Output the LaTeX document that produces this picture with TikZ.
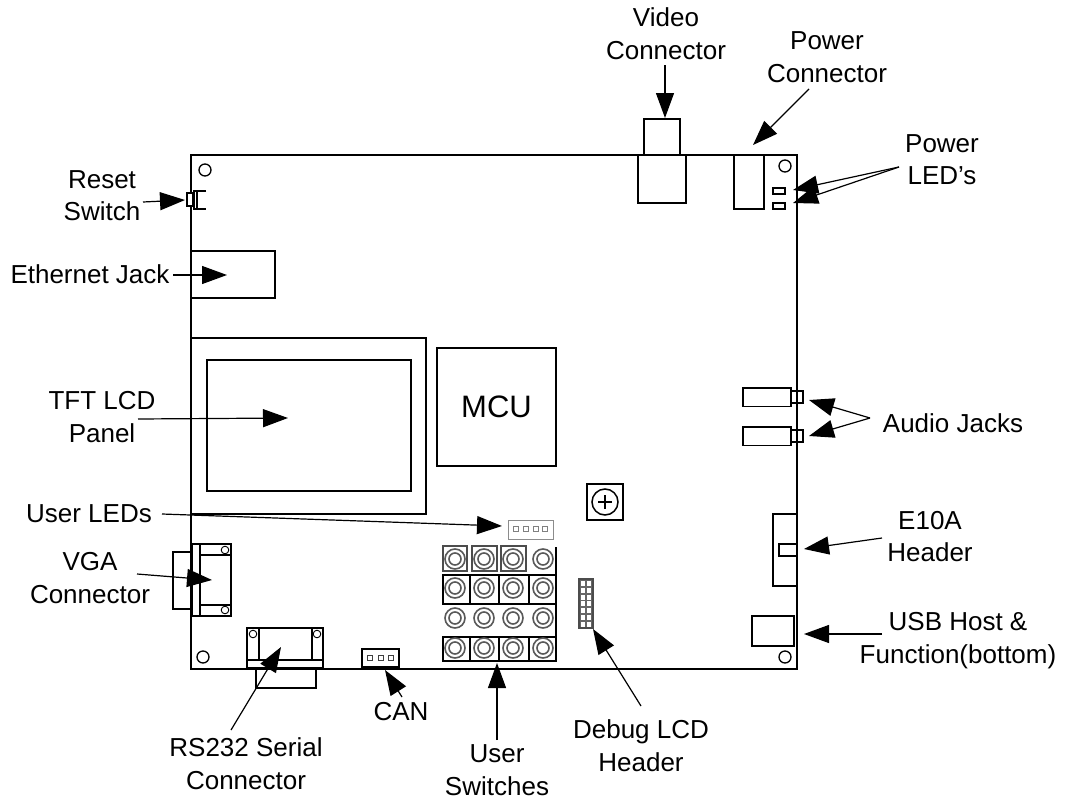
\documentclass[tikz,border=0pt]{standalone}
\usepackage{fontspec}
\setmainfont{Liberation Sans}
\usetikzlibrary{arrows.meta}
\tikzset{
  x=1pt,y=-1pt,
  part/.style={draw=black,line width=1.5pt,fill=none},
  thin part/.style={draw=black,line width=1.2pt,fill=none},
  hole/.style={draw=black,line width=1.3pt,fill=white},
  pin/.style={draw=black!75,line width=0.9pt,fill=white},
  ring/.style={draw=black!65,line width=1.6pt},
  graybox/.style={draw=black!70,line width=1.5pt},
  callout/.style={draw=black,line width=1.2pt,-{Triangle[length=25pt,width=18pt]}},
  lbl/.style={font=\fontsize{26}{32.5}\selectfont,align=center,inner sep=0pt,
    execute at begin node={\rule{0pt}{19pt}\ignorespaces},
    execute at end node={\rule[-6pt]{0pt}{6pt}}},
}
\begin{document}
\begin{tikzpicture}[line join=miter]
\useasboundingbox (0,0) rectangle (1065,803);
% board
\draw[part] (191,155) rectangle (797,669);
\foreach \x/\y in {205/170,785/166,203/657,785/657} \draw[hole] (\x,\y) circle (6);
% reset switch
\draw[thin part,fill=white] (187,193) rectangle (193,206);
\draw[thin part] (206,191) -- (194,191) -- (194,209) -- (206,209);
\draw[thin part] (197,191) -- (197,209);
% ethernet
\draw[part] (191,251) rectangle (275,298);
% LCD
\draw[part] (191,338) rectangle (426,514);
\draw[part] (207,360) rectangle (411,491);
% MCU
\node[part,minimum width=119pt,minimum height=118pt,inner sep=0pt,line width=1.2pt,font=\fontsize{31}{35}\selectfont] (mcu) at (496.5,407) {MCU};
% pot
\draw[part] (587,484) rectangle (623,520);
\draw[part] (605,502) circle (13);
\draw[line width=1.2pt] (598,502) -- (612,502) (605,495) -- (605,509);
% user LEDs
\draw[draw=black!45,line width=1pt] (508,520) rectangle (553,539);
\foreach \x in {516,526,536,545} \draw[pin,draw=black!50] (\x-2.5,526.5) rectangle (\x+2.5,531.5);
% switches
\foreach \a/\b in {443/467,472/497,501/526} \draw[graybox] (\a,546) rectangle (\b,571);
\draw[part] (556,547) -- (556,661);
\foreach \t/\b in {575/604,637/661} {
  \draw[part] (443,\t) rectangle (556,\b);
  \foreach \x in {470,499,529} \draw[part] (\x,\t) -- (\x,\b);
}
\foreach \x in {455,484,513,543} \foreach \y in {559,588,618,648} {
  \draw[ring] (\x,\y) circle (10);
  \draw[ring] (\x,\y) circle (6);
}
% debug header
\draw[graybox,fill=black!60] (579,579) rectangle (593,628);
\foreach \r in {0,...,6} \foreach \c in {0,1}
  \fill[white] (581+\c*5.6,581+\r*6.8) rectangle +(4.2,5);
% VGA
\draw[part] (173,552) rectangle (192,609);
\draw[part] (192,544) rectangle (231,616);
\draw[part] (200,544) -- (200,616);
\draw[thin part] (200,555) -- (231,555) (200,605) -- (231,605);
\foreach \y in {550,610} \draw[hole,line width=0.9pt] (225,\y) circle (3.8);
% RS232
\draw[part] (247,628) rectangle (323,668);
\draw[part] (247,660) -- (323,660);
\draw[part] (259,628) -- (259,660) (312,628) -- (312,660);
\draw[part] (256,669) -- (256,688) -- (316,688) -- (316,669);
\foreach \x in {253,317} \draw[hole,line width=0.9pt] (\x,634) circle (3.8);
% CAN
\draw[part,fill=white] (362,649) rectangle (399,667);
\foreach \x in {370,381,391} \draw[pin] (\x-2.5,655) rectangle (\x+2.5,660);
% video
\draw[part] (644,119) rectangle (680,155);
\draw[part] (638,155) rectangle (686,203);
% power
\draw[part] (734,155) rectangle (764,209);
\draw[thin part] (773,188) rectangle (785,194);
\draw[thin part] (773,203) rectangle (785,209);
% audio
\foreach \t in {388,427} {
  \draw[part] (743,\t) rectangle (791,\t+18.5);
  \draw[part] (791,\t+3) rectangle (803,\t+15);
}
% E10A, USB
\draw[part] (797,514) -- (773,514) -- (773,586) -- (797,586);
\draw[part] (797,544) -- (779,544) -- (779,556) -- (797,556);
\draw[part] (752,616) rectangle (794,646);
% labels
\node[lbl] (lvideo) at (666,36.5) {Video\\Connector};
\node[lbl] (lpower) at (827,60) {Power\\Connector};
\node[lbl] (lleds) at (942,162.5) {Power\\LED's};
\node[lbl] (lreset) at (102,198.5) {Reset\\Switch};
\node[lbl] (leth) at (90,276.5) {Ethernet Jack};
\node[lbl] (ltft) at (102,420) {TFT LCD\\Panel};
\node[lbl] (lusr) at (89,515.5) {User LEDs};
\node[lbl] (lvga) at (90,581) {VGA\\Connector};
\node[lbl] (laudio) at (953,425.5) {Audio Jacks};
\node[lbl] (le10a) at (930,539.5) {E10A\\Header};
\node[lbl] (lusb) at (958,641) {USB Host \&\\Function(bottom)};
\node[lbl] (lrs) at (246,766.5) {RS232 Serial\\Connector};
\node[lbl] (lcan) at (401,713.5) {CAN};
\node[lbl] (lsw) at (497,773) {User\\Switches};
\node[lbl] (ldbg) at (641,748.5) {Debug LCD\\Header};
% connector ends
\coordinate (a1) at (665,65);   \coordinate (a2) at (665,118);
\coordinate (b1) at (809,89);   \coordinate (b2) at (753,145);
\coordinate (c0) at (899,167);  \coordinate (c1) at (793,190); \coordinate (c2) at (793,203);
\coordinate (d1) at (143,202);  \coordinate (d2) at (185,200);
\coordinate (e1) at (173,275);  \coordinate (e2) at (227,275);
\coordinate (f1) at (138,419);  \coordinate (f2) at (288,418);
\coordinate (g1) at (162,514);  \coordinate (g2) at (502,526);
\coordinate (h1) at (137,574);  \coordinate (h2) at (212,580);
\coordinate (i0) at (870,418);  \coordinate (i1) at (809,400); \coordinate (i2) at (809,436);
\coordinate (j1) at (882,538);  \coordinate (j2) at (804,549);
\coordinate (k1) at (882,634);  \coordinate (k2) at (804,634);
\coordinate (l1) at (231,730);  \coordinate (l2) at (281,647);
\coordinate (m1) at (402,697);  \coordinate (m2) at (385,670);
\coordinate (n1) at (497,740);  \coordinate (n2) at (497,663);
\coordinate (o1) at (641,706);  \coordinate (o2) at (593,629);
\foreach \s/\e in {a1/a2,b1/b2,c0/c1,c0/c2,d1/d2,e1/e2,f1/f2,g1/g2,h1/h2,i0/i1,i0/i2,j1/j2,k1/k2,l1/l2,m1/m2,n1/n2,o1/o2}
  \draw[callout] (\s) -- (\e);
\end{tikzpicture}
\end{document}
